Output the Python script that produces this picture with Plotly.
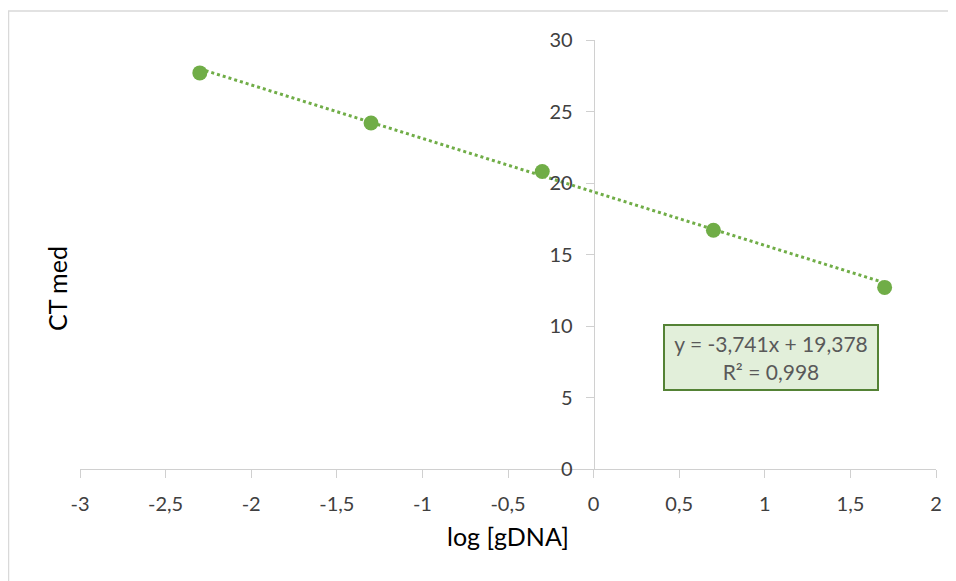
import plotly.graph_objects as go
import numpy as np

log_gdna = [-2.3, -1.3, -0.3, 0.7, 1.7]
ct_med = [27.7, 24.2, 20.8, 16.7, 12.7]
trend_slope = -3.741
trend_intercept = 19.378
r_squared = 0.998

x_ticks = [-3, -2.5, -2, -1.5, -1, -0.5, 0, 0.5, 1, 1.5, 2]
y_ticks = [0, 5, 10, 15, 20, 25, 30]

def fmt(v):
    return ("%g" % v).replace(".", ",")

green = "#70ad47"
font_family = "Lato, Carlito, 'Liberation Sans', sans-serif"

# page body has an 8px margin; the figure sits at (8, 8)
W, H = 948, 573
L, R, T, B = 72, 20, 32, 112
PW, PH = W - L - R, H - T - B

fig = go.Figure()
tx = np.array([min(log_gdna), max(log_gdna)])
fig.add_trace(go.Scatter(
    x=tx, y=trend_slope * tx + trend_intercept, mode="lines",
    line=dict(color=green, width=3, dash="dot"), showlegend=False, hoverinfo="skip"))
fig.add_trace(go.Scatter(
    x=log_gdna, y=ct_med, mode="markers",
    marker=dict(color=green, size=15), showlegend=False))

fig.update_layout(
    width=W, height=H,
    margin=dict(l=L, r=R, t=T, b=B),
    paper_bgcolor="white", plot_bgcolor="white",
    font=dict(family=font_family, size=20, color="#404040"),
    xaxis=dict(range=[-3, 2], tickvals=x_ticks, ticktext=[fmt(v) for v in x_ticks],
               showgrid=False, zeroline=False, showline=True, linecolor="#d0d0d0", linewidth=1,
               ticks="outside", ticklen=8, tickcolor="#d0d0d0", ticklabelstandoff=9,
               title=dict(text="log [gDNA]", font=dict(size=25, color="#000000"), standoff=14),
               tickfont=dict(size=20, color="#404040")),
    yaxis=dict(range=[0, 30], tickvals=y_ticks, ticktext=[fmt(v) for v in y_ticks],
               anchor="free", position=0.6,
               showgrid=False, zeroline=False, showline=True, linecolor="#d0d0d0", linewidth=1,
               ticks="outside", ticklen=8, tickcolor="#d0d0d0", ticklabelstandoff=9,
               tickfont=dict(size=20, color="#404040")),
)

fig.add_annotation(text="CT med", xref="paper", yref="paper", x=(57 - 80) / PW, y=(469 - 289) / PH,
                   textangle=-90, showarrow=False, font=dict(size=25, color="#000000"),
                   xanchor="center", yanchor="middle")

fig.add_annotation(
    text="y = -3,741x + 19,378<br>R² = 0,998",
    xref="x", yref="y", x=1.039, y=(469 - 357) / 14.3, showarrow=False,
    font=dict(size=21, color="#595959"),
    bgcolor="#e2efda", bordercolor="#548235", borderwidth=2, borderpad=3,
    width=206, height=57, align="center")

fig.add_shape(type="rect", xref="paper", yref="paper",
              x0=(8.5 - 80) / PW, x1=1.2, y0=-0.5, y1=1 + 29 / PH,
              line=dict(color="#d9d9d9", width=1.5), layer="below")

fig.write_html("out.html")
